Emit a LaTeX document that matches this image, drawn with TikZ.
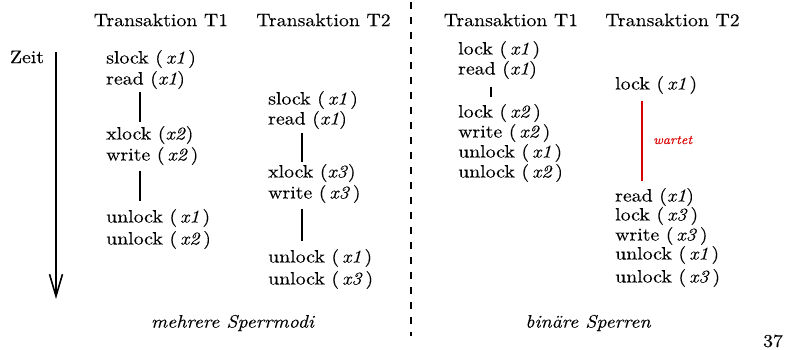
\documentclass[tikz,border=0pt]{standalone}
\usepackage{fontspec}
% wide, slightly heavy serif text
\setmainfont{lmroman10}[Extension=.otf, UprightFont=*-regular, ItalicFont=*-italic,
  BoldFont=*-bold, FakeStretch=1.1, FakeBold=0.1]
\usetikzlibrary{arrows.meta}
\newcommand{\vx}[1]{\textit{#1}}
\tikzset{
  op/.style={anchor=west,inner sep=0pt,font=\fontsize{18}{21}\selectfont},
  head/.style={inner sep=0pt,font=\fontsize{18}{21}\selectfont},
  caption/.style={inner sep=0pt,font=\fontsize{18}{21}\selectfont\itshape},
  seg/.style={line width=1.5pt},
  waitseg/.style={line width=1.5pt,draw=red!85!black},
}
\begin{document}
\begin{tikzpicture}[x=1pt,y=-1pt]
\useasboundingbox (0,0) rectangle (787,349);

% column headings
\node[head] (h1) at (161,20)   {Transaktion T1};
\node[head] (h2) at (323.5,20) {Transaktion T2};
\node[head] (h3) at (511,20)   {Transaktion T1};
\node[head] (h4) at (672.5,20) {Transaktion T2};

% separator
\coordinate (sepTop) at (410.5,2);
\coordinate (sepBot) at (410.5,336);
\draw[line width=2pt,dash pattern=on 7pt off 8pt] (sepTop) -- (sepBot);

% time axis
\node[head] (zeit) at (27,57) {Zeit};
\coordinate (tTop) at (56,52);
\coordinate (tBot) at (56,299);
\draw[line width=2pt,-{Straight Barb[length=22pt,width=13pt,line width=1.6pt]}] (tTop) -- (tBot);

% left part, T1
\node[op] (a1) at (106,59)  {slock (\,\vx{x1}\,)};
\node[op] (a2) at (106,80)  {read (\vx{x1})};
\node[op] (a3) at (106,135) {xlock (\vx{x2})};
\node[op] (a4) at (106,156) {write (\,\vx{x2}\,)};
\node[op] (a5) at (106,218) {unlock (\,\vx{x1}\,)};
\node[op] (a6) at (106,240) {unlock (\,\vx{x2}\,)};
\draw[seg] ([xshift=34pt,yshift=-2.5pt]a2.south west) -- ([xshift=34pt,yshift=3.5pt]a3.north west);
\draw[seg] ([xshift=34pt,yshift=-5.5pt]a4.south west) -- ([xshift=34pt,yshift=7.5pt]a5.north west);

% left part, T2
\node[op] (b1) at (268,100) {slock (\,\vx{x1}\,)};
\node[op] (b2) at (268,120) {read (\vx{x1})};
\node[op] (b3) at (268,173) {xlock (\vx{x3})};
\node[op] (b4) at (268,194) {write (\,\vx{x3}\,)};
\node[op] (b5) at (268,258) {unlock (\,\vx{x1}\,)};
\node[op] (b6) at (268,280) {unlock (\,\vx{x3}\,)};
\draw[seg] ([xshift=34pt,yshift=-3.5pt]b2.south west) -- ([xshift=34pt,yshift=1.5pt]b3.north west);
\draw[seg] ([xshift=34pt,yshift=-5.5pt]b4.south west) -- ([xshift=34pt,yshift=7.5pt]b5.north west);

\node[caption] (capL) at (232.5,323) {mehrere Sperrmodi};

% right part, T1
\node[op] (c1) at (458,50)  {lock (\,\vx{x1}\,)};
\node[op] (c2) at (458,70)  {read (\vx{x1})};
\node[op] (c3) at (458,113) {lock (\,\vx{x2}\,)};
\node[op] (c4) at (458,133) {write (\,\vx{x2}\,)};
\node[op] (c5) at (458,153) {unlock (\,\vx{x1}\,)};
\node[op] (c6) at (458,173) {unlock (\,\vx{x2}\,)};
\draw[seg] ([xshift=33pt,yshift=-7.5pt]c2.south west) -- ([xshift=33pt,yshift=6.5pt]c3.north west);

% right part, T2
\node[op] (d1) at (615,85)  {lock (\,\vx{x1}\,)};
\node[op] (d2) at (615,197) {read (\vx{x1})};
\node[op] (d3) at (615,216) {lock (\,\vx{x3}\,)};
\node[op] (d4) at (615,236) {write (\,\vx{x3}\,)};
\node[op] (d5) at (615,255) {unlock (\,\vx{x1}\,)};
\node[op] (d6) at (615,278) {unlock (\,\vx{x3}\,)};
\draw[waitseg] ([xshift=27pt,yshift=-6.5pt]d1.south west) -- ([xshift=27pt,yshift=6.5pt]d2.north west);
\node[anchor=west,inner sep=0pt,text=red!85!black,font=\fontsize{13}{15}\selectfont\itshape] (wait) at (653,140) {wartet};

\node[caption] (capR) at (588,323) {binäre Sperren};

% page number
\node[head] (page) at (773,341) {37};
\end{tikzpicture}
\end{document}
